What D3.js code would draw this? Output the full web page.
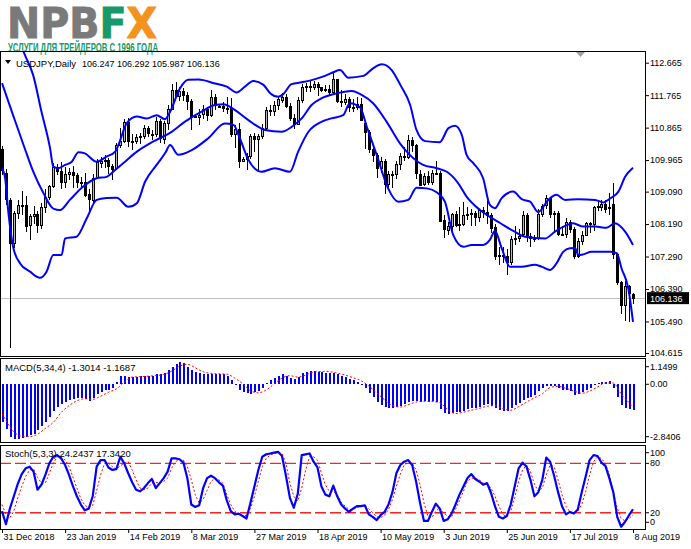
<!DOCTYPE html>
<html>
<head>
<meta charset="utf-8">
<script src="https://cdn.jsdelivr.net/npm/d3@7"></script>
<style>
  body { margin: 0; background: #fff; }
  svg { display: block; }
  text { font-family: "Liberation Sans", Arial, sans-serif; }
</style>
</head>
<body>
<svg id="chart" width="691" height="549"></svg>
<script>
// USDJPY daily: candles + Bollinger, MACD(5,34,4), Stoch(5,3,3)

const dateLabels = ['31 Dec 2018', '23 Jan 2019', '14 Feb 2019', '8 Mar 2019', '27 Mar 2019', '18 Apr 2019',
  '10 May 2019', '3 Jun 2019', '25 Jun 2019', '17 Jul 2019', '8 Aug 2019'];
const dateLabelBars = [0, 16, 32, 48, 64, 80, 96, 112, 128, 144, 160];

const priceTicks = [112.665, 111.765, 110.865, 109.965, 109.090, 108.190, 107.290, 106.390, 105.490, 104.615];
const macdTicks = [1.1499, 0, -2.8406];
const stochTicks = [100, 80, 20, 0];
const stochLevels = [80, 20];

const open = [
  110.28, 109.60, 108.85, 107.68, 108.50, 108.71, 108.73, 108.16, 108.41, 108.47,
  108.17, 108.66, 108.93, 109.24, 109.78, 109.67, 109.37, 109.59, 109.64, 109.55,
  109.36, 109.37, 109.02, 108.87, 109.48, 109.90, 109.95, 109.97, 109.80, 109.73,
  110.38, 110.48, 111.01, 110.47, 110.48, 110.60, 110.62, 110.85, 110.70, 110.68,
  111.04, 110.57, 111.00, 111.38, 111.92, 111.75, 111.89, 111.77, 111.59, 111.20,
  111.17, 111.22, 111.37, 111.21, 111.70, 111.47, 111.46, 111.41, 111.42, 110.69,
  110.82, 109.95, 110.00, 110.07, 110.62, 110.55, 110.63, 110.85, 111.35, 111.33,
  111.49, 111.65, 111.72, 111.47, 111.14, 110.97, 111.63, 112.00, 112.03, 112.01,
  112.08, 111.99, 111.92, 111.93, 111.85, 112.21, 111.60, 111.56, 111.65, 111.42,
  111.44, 111.52, 111.00, 110.75, 110.27, 110.10, 109.75, 109.95, 109.30, 109.59,
  109.58, 109.86, 110.08, 110.05, 110.51, 110.38, 109.59, 109.29, 109.52, 109.36,
  109.62, 109.61, 108.29, 108.03, 108.15, 108.47, 108.17, 108.19, 108.45, 108.46,
  108.50, 108.38, 108.58, 108.52, 108.45, 108.10, 107.30, 107.32, 107.31, 107.15,
  107.79, 107.80, 107.90, 108.43, 107.87, 107.81, 107.81, 108.47, 108.70, 108.90,
  108.47, 108.50, 107.91, 107.90, 108.24, 108.04, 107.30, 107.72, 107.89, 108.21,
  108.19, 108.65, 108.68, 108.75, 108.62, 108.75, 107.36, 106.59, 105.94, 106.47, 106.247
];
const high = [
  110.35, 109.72, 108.90, 108.55, 108.85, 109.10, 108.98, 108.48, 108.68, 108.55,
  108.77, 109.15, 109.28, 109.89, 109.85, 109.90, 109.78, 109.75, 109.80, 109.60,
  109.50, 109.62, 109.15, 109.57, 109.99, 110.05, 110.10, 110.02, 109.85, 110.45,
  110.85, 111.10, 111.13, 110.70, 110.70, 110.72, 110.95, 110.91, 110.80, 111.15,
  111.10, 111.05, 111.48, 112.08, 112.14, 112.00, 111.95, 111.85, 111.65, 111.25,
  111.38, 111.50, 111.42, 111.90, 111.80, 111.52, 111.58, 111.70, 111.69, 110.95,
  111.00, 110.05, 110.15, 110.70, 110.72, 110.68, 110.96, 111.45, 111.48, 111.60,
  111.70, 111.82, 111.80, 111.55, 111.25, 111.70, 112.07, 112.10, 112.15, 112.17,
  112.13, 112.00, 112.05, 112.04, 112.40, 112.22, 111.90, 111.80, 111.70, 111.65,
  111.70, 111.68, 111.05, 110.80, 110.35, 110.15, 110.05, 110.00, 109.65, 109.65,
  109.95, 110.15, 110.32, 110.67, 110.60, 110.40, 109.70, 109.60, 109.65, 109.70,
  109.93, 109.65, 108.45, 108.25, 108.50, 108.55, 108.65, 108.80, 108.65, 108.60,
  108.55, 108.60, 108.65, 108.85, 108.50, 108.20, 107.55, 107.55, 107.50, 107.85,
  108.15, 108.05, 108.55, 108.50, 107.95, 107.90, 108.62, 108.75, 108.99, 108.95,
  108.55, 108.55, 108.15, 108.35, 108.30, 108.10, 107.80, 108.00, 108.25, 108.25,
  108.70, 108.80, 108.85, 108.85, 109.05, 109.32, 107.40, 106.60, 106.60, 106.50, 106.292
];
const low = [
  109.55, 108.72, 104.75, 107.52, 108.32, 108.45, 107.98, 107.76, 108.20, 107.95,
  108.05, 108.50, 108.85, 109.20, 109.55, 109.15, 109.20, 109.40, 109.20, 109.20,
  109.17, 108.95, 108.50, 108.78, 109.45, 109.75, 109.75, 109.58, 109.40, 109.70,
  110.30, 110.45, 110.33, 110.25, 110.40, 110.42, 110.55, 110.60, 110.52, 110.60,
  110.45, 110.40, 110.80, 111.35, 111.70, 111.60, 111.60, 111.35, 110.79, 111.12,
  110.95, 111.10, 111.05, 111.15, 111.35, 111.42, 111.30, 111.25, 110.60, 110.30,
  109.75, 109.90, 109.70, 110.00, 110.20, 109.70, 110.55, 110.80, 111.20, 111.20,
  111.35, 111.55, 111.40, 111.05, 110.84, 110.95, 111.55, 111.85, 111.85, 111.90,
  111.75, 111.85, 111.85, 111.75, 111.80, 111.55, 111.45, 111.50, 111.30, 111.30,
  111.35, 111.05, 110.28, 110.15, 109.90, 109.47, 109.60, 109.02, 109.15, 109.20,
  109.45, 109.70, 109.95, 110.00, 110.20, 109.45, 109.25, 109.25, 109.28, 109.28,
  109.55, 108.28, 107.81, 107.88, 108.00, 108.10, 108.00, 108.15, 108.30, 108.15,
  108.15, 108.25, 108.35, 108.20, 107.95, 107.20, 107.05, 107.10, 106.78, 107.05,
  107.60, 107.70, 107.85, 107.70, 107.55, 107.70, 107.75, 108.40, 108.60, 108.35,
  107.95, 107.85, 107.85, 107.80, 107.95, 107.21, 107.25, 107.60, 107.85, 107.95,
  108.00, 108.55, 108.55, 108.50, 108.45, 107.21, 106.50, 105.70, 105.50, 105.48, 105.987
];
const close = [
  109.69, 108.88, 107.65, 108.50, 108.71, 108.73, 108.16, 108.41, 108.47, 108.17,
  108.66, 108.93, 109.24, 109.78, 109.67, 109.37, 109.59, 109.64, 109.55, 109.36,
  109.37, 109.02, 108.87, 109.48, 109.90, 109.95, 109.97, 109.80, 109.73, 110.38,
  110.48, 111.01, 110.47, 110.48, 110.60, 110.62, 110.85, 110.70, 110.68, 111.04,
  110.57, 111.00, 111.38, 111.92, 111.75, 111.89, 111.77, 111.59, 111.18, 111.17,
  111.22, 111.37, 111.21, 111.70, 111.47, 111.46, 111.41, 111.40, 110.69, 110.82,
  109.92, 110.00, 110.07, 110.62, 110.55, 110.63, 110.85, 111.35, 111.33, 111.49,
  111.65, 111.72, 111.47, 111.14, 110.97, 111.63, 112.00, 112.03, 112.01, 112.08,
  111.99, 111.92, 111.93, 111.85, 112.21, 111.60, 111.56, 111.65, 111.42, 111.44,
  111.52, 111.08, 110.75, 110.27, 110.10, 109.75, 109.95, 109.30, 109.59, 109.58,
  109.86, 110.08, 110.05, 110.51, 110.38, 109.59, 109.29, 109.52, 109.36, 109.62,
  109.61, 108.29, 108.03, 108.15, 108.47, 108.17, 108.19, 108.45, 108.46, 108.50,
  108.38, 108.58, 108.52, 108.45, 108.10, 107.30, 107.32, 107.31, 107.15, 107.79,
  107.80, 107.85, 108.43, 107.87, 107.81, 107.81, 108.47, 108.70, 108.90, 108.47,
  108.50, 107.91, 107.90, 108.24, 108.04, 107.30, 107.72, 107.89, 108.21, 108.19,
  108.65, 108.68, 108.75, 108.62, 108.65, 107.36, 106.59, 105.94, 106.47, 106.27, 106.136
];

// Bollinger bands as [bar, price]
const bbUpper = [
  [0, 114.5], [3, 113.7], [5.8, 112.88], [7.9, 112.32], [10, 111.31], [12.2, 110.29], [13, 109.78],
  [14.3, 109.74], [16, 109.83], [17.7, 109.92], [19.4, 110.18], [21, 110.15], [24, 109.92], [26.5, 110.06],
  [28.7, 110.2], [29.5, 110.38], [31.6, 110.98], [34.2, 111.17], [36.7, 111.12], [39.2, 111.21], [41.3, 111.1],
  [42.6, 111.3], [45.1, 111.95], [47.2, 112.19], [49.8, 112.2], [54, 112.09], [57, 112.0], [59.5, 111.84],
  [61.6, 112.0], [63.7, 112.16], [66.3, 112.05], [68, 111.82], [70.1, 111.72], [71.3, 111.79], [73.4, 112.07],
  [76, 112.12], [79.4, 112.21], [81.9, 112.3], [84, 112.4], [85.7, 112.46], [87.8, 112.25], [91.6, 112.3],
  [94.1, 112.51], [96.3, 112.62], [98.8, 112.46], [101, 112.05], [103.5, 111.49], [105.1, 110.8], [107.3, 110.49],
  [111, 110.46], [113.2, 110.85], [114.9, 110.92], [116.6, 110.66], [117.8, 110.11], [119.5, 109.88], [122, 109.46],
  [123.7, 108.72], [125, 108.63], [126.7, 108.91], [129.6, 109.09], [131.8, 108.88], [133.9, 108.81], [136, 108.52],
  [138.5, 108.86], [140.6, 109.0], [142.8, 108.86], [146.1, 108.88], [150.4, 108.86], [152.5, 108.79],
  [154.2, 108.9], [156.3, 109.09], [158, 109.5], [160, 109.75]
];
const bbMiddle = [
  [0, 112.1], [3, 111.15], [5.8, 110.28], [7.9, 109.65], [10.5, 109.05], [13, 108.62], [14.7, 108.58],
  [17.2, 108.86], [20.6, 109.23], [24, 109.46], [26.5, 109.5], [28.7, 109.69], [31.2, 109.92], [34.2, 110.2],
  [37.5, 110.43], [40, 110.57], [42.6, 110.72], [46.4, 111.03], [50.6, 111.31], [54, 111.49], [56.1, 111.51],
  [59.1, 111.35], [62.4, 111.08], [66.7, 110.8], [70.9, 110.75], [73.5, 110.89], [76, 111.12], [78.5, 111.49],
  [81.1, 111.68], [84.4, 111.8], [88.7, 111.88], [91.2, 111.77], [94.1, 111.54], [97.5, 111.03], [100.9, 110.43],
  [103.4, 110.11], [106.8, 109.83], [110.2, 109.74], [112.8, 109.64], [115.7, 109.32], [117.8, 108.95],
  [121.2, 108.58], [123.7, 108.39], [126.3, 108.22], [130, 107.98], [132.6, 107.84], [137.7, 107.79],
  [140.2, 107.98], [142.8, 108.14], [144.8, 108.21], [147.4, 108.12], [150.4, 108.12], [153.3, 108.09],
  [155.4, 108.21], [158, 107.98], [160, 107.61]
];
const bbLower = [
  [0, 109.74], [0.8, 109.46], [1.6, 108.53], [2.9, 107.52], [4.6, 107.1], [7.1, 106.87], [9.6, 106.7],
  [11.3, 106.87], [13, 107.33], [15.1, 107.33], [16, 107.79], [18.9, 107.84], [21.5, 108.35], [24, 108.86],
  [26.5, 108.91], [29.1, 108.92], [32, 108.67], [34.2, 108.77], [36.3, 109.37], [39.2, 109.83], [41.5, 110.18],
  [42.6, 110.38], [44.7, 110.11], [48.1, 110.24], [52.3, 110.57], [56.5, 110.98], [58.7, 110.94], [60.3, 110.57],
  [62.5, 109.97], [65.8, 109.64], [69.2, 109.74], [73, 109.64], [75.1, 110.2], [77.7, 110.75], [81.1, 111.03],
  [83.5, 111.12], [86.5, 111.21], [88.2, 111.54], [90.8, 111.42], [92.5, 110.89], [95, 110.11], [97.9, 109.18],
  [100.5, 108.81], [103, 108.86], [105.1, 109.2], [107.7, 109.18], [110.2, 109.07], [112.3, 108.81],
  [114.4, 107.89], [117, 107.56], [119.1, 107.61], [122, 107.61], [123.7, 107.75], [125, 108.0], [126.7, 107.52],
  [128.8, 107.01], [131.8, 107.01], [135.1, 107.06], [136.8, 107.01], [139, 106.92], [140.6, 107.1],
  [142.3, 107.42], [144, 107.52], [145.3, 107.53], [146.1, 107.33], [147.4, 107.35], [149.5, 107.42],
  [154.2, 107.42], [155.9, 107.38], [157.1, 106.96], [158.8, 106.41], [160, 105.48]
];

const macdHist = [
  -1.91, -2.28, -2.67, -2.79, -2.81, -2.72, -2.67, -2.59, -2.52, -2.33,
  -2.13, -1.91, -1.66, -1.37, -1.15, -1.03, -0.93, -0.83, -0.76, -0.73,
  -0.73, -0.78, -0.86, -0.69, -0.52, -0.39, -0.32, -0.29, -0.20, 0.10,
  0.38, 0.42, 0.37, 0.34, 0.37, 0.40, 0.42, 0.42, 0.42, 0.49,
  0.49, 0.54, 0.71, 0.88, 1.00, 1.10, 1.05, 0.88, 0.71, 0.59,
  0.54, 0.52, 0.51, 0.52, 0.51, 0.51, 0.49, 0.42, 0.20, -0.05,
  -0.30, -0.39, -0.47, -0.52, -0.42, -0.36, -0.22, 0.03, 0.20, 0.29,
  0.42, 0.49, 0.42, 0.29, 0.25, 0.37, 0.54, 0.63, 0.66, 0.66,
  0.63, 0.63, 0.58, 0.54, 0.58, 0.50, 0.40, 0.33, 0.27, 0.18,
  0.08, -0.05, -0.22, -0.45, -0.68, -0.90, -1.05, -1.15, -1.20, -1.20,
  -1.15, -1.10, -1.02, -0.92, -0.86, -0.88, -0.90, -0.88, -0.90, -0.88,
  -0.92, -1.25, -1.45, -1.54, -1.48, -1.44, -1.42, -1.35, -1.28, -1.24,
  -1.22, -1.18, -1.08, -1.03, -1.10, -1.24, -1.32, -1.37, -1.35, -1.20,
  -1.07, -0.98, -0.80, -0.73, -0.65, -0.55, -0.35, -0.18, -0.10, -0.08,
  -0.10, -0.22, -0.30, -0.30, -0.38, -0.56, -0.52, -0.40, -0.30, -0.22,
  -0.05, 0.05, 0.08, 0.10, 0.15, -0.22, -0.64, -1.07, -1.20, -1.26, -1.3014
];
const macdSignal = [
  [0, -1.49], [3, -2.42], [5, -2.65], [7, -2.67], [9, -2.55], [11, -2.25], [13, -1.95], [15, -1.45], [17, -1.1],
  [19, -0.85], [21, -0.75], [23, -0.78], [25, -0.62], [27, -0.42], [29, -0.25], [31, 0.1], [33, 0.35], [36, 0.38],
  [39, 0.43], [41, 0.48], [43, 0.65], [45, 0.9], [47, 1.0], [49, 0.82], [51, 0.62], [54, 0.52], [57, 0.5],
  [59, 0.3], [61, 0.02], [63, -0.35], [65, -0.45], [67, -0.3], [69, 0.0], [71, 0.3], [73, 0.42], [75, 0.35],
  [77, 0.45], [79, 0.6], [82, 0.64], [85, 0.55], [87, 0.45], [89, 0.32], [91, 0.17], [93, -0.1], [95, -0.45],
  [97, -0.8], [99, -1.1], [101, -1.17], [103, -1.05], [105, -0.92], [107, -0.88], [109, -0.89], [111, -0.95],
  [113, -1.3], [115, -1.5], [117, -1.43], [119, -1.33], [121, -1.24], [123, -1.13], [125, -1.1], [127, -1.25],
  [129, -1.33], [131, -1.15], [133, -0.92], [135, -0.7], [137, -0.5], [139, -0.18], [141, -0.12], [143, -0.22],
  [145, -0.35], [147, -0.47], [149, -0.36], [151, -0.15], [153, 0.05], [155, 0.05], [157, -0.5], [159, -0.95],
  [160, -1.1687]
];

const stochK = [
  22, 6, 25, 40, 55, 67, 74, 76, 70, 48,
  54, 66, 80, 88, 90, 86, 78, 66, 52, 40,
  30, 23, 25, 40, 76, 84, 84, 75, 72, 73,
  88, 80, 68, 57, 48, 46, 50, 56, 61, 50,
  56, 62, 70, 86, 86, 85, 81, 62, 30, 27,
  29, 50, 62, 65, 62, 57, 53, 35, 22, 18,
  19, 16, 13, 32, 52, 72, 88, 91, 92, 93,
  94, 89, 65, 38, 26, 43, 90, 91, 92, 82,
  75, 52, 42, 40, 53, 40, 30, 25, 21, 25,
  28, 28, 29, 18, 15, 11, 17, 21, 30, 45,
  68, 78, 82, 84, 78, 58, 32, 10, 10, 21,
  31, 25, 10, 12, 19, 30, 42, 52, 62, 67,
  61, 58, 54, 56, 44, 28, 15, 13, 16, 30,
  52, 74, 81, 76, 60, 40, 45, 60, 87, 82,
  65, 45, 28, 18, 21, 19, 24, 45, 64, 84,
  90, 89, 81, 77, 62, 45, 15, 3, 9, 17, 24.2437
];
const stochD = [
  30, 18, 14, 22, 38, 52, 64, 72, 73, 63,
  56, 56, 68, 80, 88, 88, 84, 76, 63, 50,
  37, 29, 26, 29, 47, 66, 80, 80, 76, 73,
  77, 80, 82, 72, 60, 50, 48, 50, 56, 57,
  56, 58, 62, 74, 82, 85, 84, 76, 60, 42,
  32, 36, 47, 58, 62, 60, 56, 42, 30, 22,
  18, 16, 17, 25, 40, 58, 76, 86, 90, 92,
  93, 92, 80, 56, 40, 34, 50, 72, 88, 88,
  84, 68, 54, 46, 46, 42, 33, 28, 24, 24,
  26, 28, 28, 25, 20, 15, 14, 17, 24, 36,
  52, 67, 78, 81, 80, 72, 54, 32, 16, 14,
  22, 26, 20, 15, 15, 24, 35, 46, 58, 62,
  62, 60, 56, 55, 50, 40, 28, 18, 15, 22,
  38, 58, 72, 78, 70, 55, 46, 50, 66, 78,
  76, 60, 42, 28, 21, 20, 22, 30, 46, 66,
  82, 88, 86, 80, 66, 45, 26, 13, 10, 13, 17.342
];

const BLUE = '#0000ff';
const RED = '#ff0000';
const GREEN = '#16996b';
const ORANGE = '#f5921e';

const svg = d3.select('#chart');

// panel geometry
const left = 0, right = 645;
const mainTop = 51, mainBottom = 356;
const macdTop = 358.5, macdBottom = 442.5;
const stochTop = 445.5, stochBottom = 529;

const x = d3.scaleLinear().domain([0, 160]).range([2, 633]);
const yP = d3.scaleLinear().domain([104.615, 112.665]).range([353.0, 62.7]);
const yM = d3.scaleLinear().domain([-2.8406, 1.1499]).range([440, 361.3]);
const yS = d3.scaleLinear().domain([0, 100]).range([529.2, 446.9]);

const px = i => Math.round(x(i)) + 0.5;

// clip paths
const defs = svg.append('defs');
[['clipMain', mainTop, mainBottom], ['clipMacd', macdTop, macdBottom], ['clipStoch', stochTop, stochBottom]]
  .forEach(([id, t, b]) => {
    defs.append('clipPath').attr('id', id)
      .append('rect').attr('x', left).attr('y', t).attr('width', right - left).attr('height', b - t);
  });

// ---------- logo ----------
const logo = svg.append('text')
  .attr('x', 7).attr('y', 38)
  .attr('font-size', 42).attr('font-weight', 'bold')
  .attr('textLength', 150).attr('lengthAdjust', 'spacingAndGlyphs')
  .attr('stroke-width', 0.9)
  .style('font-family', '"DejaVu Sans", sans-serif');
logo.append('tspan').attr('fill', '#7a7a7a').attr('stroke', '#7a7a7a').text('NPB');
logo.append('tspan').attr('fill', GREEN).attr('stroke', GREEN).text('F');
logo.append('tspan').attr('fill', ORANGE).attr('stroke', ORANGE).text('X');

svg.append('text')
  .attr('x', 8).attr('y', 51.5)
  .attr('font-size', 13).attr('font-weight', 'bold')
  .attr('fill', GREEN)
  .attr('textLength', 150).attr('lengthAdjust', 'spacingAndGlyphs')
  .style('font-family', '"Liberation Sans Narrow", "Liberation Sans", Arial, sans-serif')
  .text('УСЛУГИ ДЛЯ ТРЕЙДЕРОВ С 1996 ГОДА');

// ---------- main panel ----------
const main = svg.append('g').attr('clip-path', 'url(#clipMain)');

// bid line
main.append('line')
  .attr('x1', left).attr('x2', right)
  .attr('y1', Math.round(yP(close[close.length - 1])) + 0.5)
  .attr('y2', Math.round(yP(close[close.length - 1])) + 0.5)
  .attr('stroke', '#c0c0c0').attr('stroke-width', 1);

const bars = d3.range(close.length).map(i => ({ i, o: open[i], h: high[i], l: low[i], c: close[i] }));

main.append('g').selectAll('line')
  .data(bars).join('line')
  .attr('x1', d => px(d.i)).attr('x2', d => px(d.i))
  .attr('y1', d => yP(d.h)).attr('y2', d => yP(d.l))
  .attr('stroke', '#000').attr('stroke-width', 1)
  .attr('shape-rendering', 'crispEdges');

main.append('g').selectAll('rect')
  .data(bars).join('rect')
  .attr('x', d => px(d.i) - 1)
  .attr('width', 2)
  .attr('y', d => Math.round(yP(Math.max(d.o, d.c))) + 0.5)
  .attr('height', d => Math.max(1, Math.round(Math.abs(yP(d.o) - yP(d.c)))))
  .attr('fill', d => d.c >= d.o ? '#b8b8b8' : '#000')
  .attr('stroke', '#000').attr('stroke-width', 1)
  .attr('shape-rendering', 'crispEdges');

const bandLine = d3.line().x(d => x(d[0])).y(d => yP(d[1])).curve(d3.curveMonotoneX);
[bbUpper, bbMiddle, bbLower].forEach(band => {
  main.append('path')
    .attr('d', bandLine(band))
    .attr('fill', 'none').attr('stroke', BLUE).attr('stroke-width', 2);
});

// chart shift marker
svg.append('path')
  .attr('d', 'M576,52 L585,52 L580.5,57 Z')
  .attr('fill', '#a0a0a0');

// header
svg.append('path').attr('d', 'M5,60 L11,60 L8,64 Z').attr('fill', '#000');
svg.append('text').attr('x', 16).attr('y', 66.5).attr('font-size', 9.5).attr('fill', '#000')
  .text('USDJPY,Daily');
svg.append('text').attr('x', 82).attr('y', 66.5).attr('font-size', 9).attr('fill', '#000')
  .text([open, high, low, close].map(a => a[a.length - 1].toFixed(3)).join(' '));

// ---------- MACD panel ----------
const macdG = svg.append('g').attr('clip-path', 'url(#clipMacd)');
macdG.append('g').selectAll('rect')
  .data(macdHist).join('rect')
  .attr('x', (d, i) => Math.round(x(i)) - 0.5)
  .attr('width', 2)
  .attr('y', d => Math.min(yM(0), yM(d)))
  .attr('height', d => Math.abs(yM(d) - yM(0)))
  .attr('fill', BLUE)
  .attr('shape-rendering', 'crispEdges');

const macdLine = d3.line().x(d => x(d[0])).y(d => yM(d[1])).curve(d3.curveMonotoneX);
macdG.append('path')
  .attr('d', macdLine(macdSignal))
  .attr('fill', 'none').attr('stroke', RED).attr('stroke-width', 1)
  .attr('stroke-dasharray', '2,2');

svg.append('text').attr('x', 5).attr('y', 371).attr('font-size', 9.5).attr('fill', '#000')
  .text(`MACD(5,34,4) ${macdHist[macdHist.length - 1].toFixed(4)} ${macdSignal[macdSignal.length - 1][1].toFixed(4)}`);

// ---------- Stochastic panel ----------
const stochG = svg.append('g').attr('clip-path', 'url(#clipStoch)');
stochG.append('g').selectAll('line')
  .data(stochLevels).join('line')
  .attr('x1', left).attr('x2', right)
  .attr('y1', d => yS(d)).attr('y2', d => yS(d))
  .style('stroke', '#ff2020').style('stroke-width', 1.4)
  .style('stroke-dasharray', '11,4');

const stochLine = d3.line().x((d, i) => x(i)).y(d => yS(d));
stochG.append('path')
  .attr('d', stochLine(stochD))
  .attr('fill', 'none').attr('stroke', RED).attr('stroke-width', 1)
  .attr('stroke-dasharray', '2,2');
stochG.append('path')
  .attr('d', stochLine(stochK))
  .attr('fill', 'none').attr('stroke', BLUE).attr('stroke-width', 2.2)
  .attr('stroke-linejoin', 'round');

svg.append('text').attr('x', 5).attr('y', 457).attr('font-size', 9.5).attr('fill', '#000')
  .text(`Stoch(5,3,3) ${stochK[stochK.length - 1].toFixed(4)} ${stochD[stochD.length - 1].toFixed(4)}`);

// ---------- frames ----------
[[mainTop, mainBottom], [macdTop, macdBottom], [stochTop, stochBottom]].forEach(([t, b]) => {
  svg.append('rect')
    .attr('x', left + 0.5).attr('y', t)
    .attr('width', right - left - 0.5).attr('height', b - t)
    .attr('fill', 'none').attr('stroke', '#000').attr('stroke-width', 1)
    .attr('shape-rendering', 'crispEdges');
});

// ---------- axes ----------
const priceAxis = svg.append('g')
  .attr('transform', `translate(${right},0)`)
  .call(d3.axisRight(yP).tickValues(priceTicks).tickSize(4).tickPadding(1).tickFormat(d3.format('.3f')));
priceAxis.select('.domain').remove();
priceAxis.selectAll('text').attr('font-size', 9).attr('fill', '#000').style('font-family', '"Liberation Sans", Arial, sans-serif');

// current price tag
const last = close[close.length - 1];
svg.append('rect')
  .attr('x', 647).attr('y', yP(last) - 6)
  .attr('width', 42).attr('height', 12)
  .attr('fill', '#000');
svg.append('text')
  .attr('x', 650).attr('y', yP(last) + 3.5)
  .attr('font-size', 9).attr('fill', '#fff')
  .text(last.toFixed(3));

// MACD scale labels (edge labels sit inside the panel)
const macdLabelShift = [5.4, 0.3, -3.3];
const macdAxis = svg.append('g').attr('transform', `translate(${right},0)`);
macdAxis.selectAll('line')
  .data(macdTicks).join('line')
  .attr('x1', 0).attr('x2', 4)
  .attr('y1', (d, i) => yM(d) + macdLabelShift[i]).attr('y2', (d, i) => yM(d) + macdLabelShift[i])
  .attr('stroke', '#000');
macdAxis.selectAll('text')
  .data(macdTicks).join('text')
  .attr('x', 5).attr('y', (d, i) => yM(d) + macdLabelShift[i])
  .attr('dy', '0.32em').attr('font-size', 9).attr('fill', '#000')
  .text(d => d === 0 ? '0.00' : d.toFixed(4));

const stochLabelShift = [5.8, 0, 0, -6.9];
const stochAxis = svg.append('g').attr('transform', `translate(${right},0)`);
stochAxis.selectAll('line')
  .data(stochTicks).join('line')
  .attr('x1', 0).attr('x2', 4)
  .attr('y1', (d, i) => yS(d) + stochLabelShift[i]).attr('y2', (d, i) => yS(d) + stochLabelShift[i])
  .attr('stroke', '#000');
stochAxis.selectAll('text')
  .data(stochTicks).join('text')
  .attr('x', 5).attr('y', (d, i) => yS(d) + stochLabelShift[i])
  .attr('dy', '0.32em').attr('font-size', 9).attr('fill', '#000')
  .text(d => d);

// date axis
const dateAxis = svg.append('g')
  .attr('transform', `translate(0,${stochBottom})`)
  .call(d3.axisBottom(x).tickValues(dateLabelBars).tickSize(4).tickPadding(1)
    .tickFormat((d, i) => dateLabels[i]));
dateAxis.select('.domain').remove();
dateAxis.selectAll('text')
  .attr('text-anchor', 'start').attr('x', 1)
  .attr('font-size', 9).attr('fill', '#000')
  .style('font-family', '"Liberation Sans", Arial, sans-serif');
</script>
</body>
</html>
